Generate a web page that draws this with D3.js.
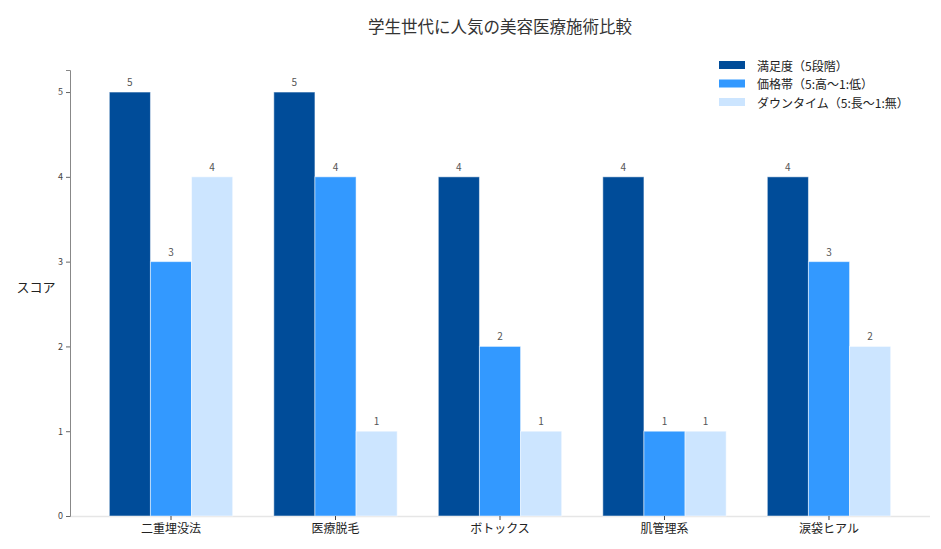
<!DOCTYPE html>
<html><head><meta charset="utf-8">
<script src="https://cdn.jsdelivr.net/npm/d3@7"></script>
<style>body{margin:0;background:#fff;font-family:"Noto Sans CJK JP","Noto Sans",sans-serif;}
svg text{text-spacing-trim:space-all;font-feature-settings:"palt" 0;}</style>
</head><body><svg id="c" width="941" height="549"></svg>
<script>
const categories = ["二重埋没法","医療脱毛","ボトックス","肌管理系","涙袋ヒアル"];
const seriesNames = ["満足度（5段階）","価格帯（5:高～1:低）","ダウンタイム（5:長～1:無）"];
const satisfaction = [5,5,4,4,4];
const price = [3,4,2,1,3];
const downtime = [4,1,1,1,2];
const yTicks = [0,1,2,3,4,5];
const colors = ["#004c99","#3399ff","#cce5ff"];
const series = [satisfaction, price, downtime];

(function(){
const svg = d3.select("#c");
const mLeft = 70, mRight = 930, mTop = 70, mBottom = 516;
const font = '"Noto Sans CJK JP","Noto Sans",sans-serif';

const x = d3.scaleBand().domain(categories).range([mLeft, mRight]).paddingInner(0).paddingOuter(0.114);
const inner = d3.scaleBand().domain(d3.range(series.length))
  .range([x.bandwidth()*0.125, x.bandwidth()*0.875]).padding(0);
const y = d3.scaleLinear().domain([0, 5.26]).range([mBottom, mTop]);

svg.append("text").attr("x", 500).attr("y", 33).attr("text-anchor","middle")
  .style("font-family", font).style("font-size","16.5px").attr("fill","#333")
  .text("学生世代に人気の美容医療施術比較");

svg.append("line").attr("x1", mLeft).attr("x2", mRight).attr("y1", mBottom+0.5).attr("y2", mBottom+0.5)
  .attr("stroke","#e6e6e6").attr("stroke-width",1.5);

series.forEach((vals, si) => {
  const g = svg.append("g");
  g.selectAll("rect").data(vals).enter().append("rect")
    .attr("x", (d,i) => x(categories[i]) + inner(si))
    .attr("width", inner.bandwidth())
    .attr("y", d => y(d))
    .attr("height", d => y(0) - y(d))
    .attr("fill", colors[si])
    .attr("stroke", "#ffffff").attr("stroke-opacity",0.5).attr("stroke-width",1);
  g.selectAll("text").data(vals).enter().append("text")
    .attr("x", (d,i) => x(categories[i]) + inner(si) + inner.bandwidth()/2)
    .attr("y", d => y(d) - 6)
    .attr("text-anchor","middle")
    .style("font-family", font).style("font-size","10px").attr("fill","#555")
    .text(d => d);
});

const ya = svg.append("g").attr("transform", `translate(${mLeft},0)`)
  .call(d3.axisLeft(y).tickValues(yTicks).tickSize(4).tickPadding(3).tickFormat(d3.format("d")));
ya.select(".domain").attr("stroke","#888");
ya.selectAll(".tick line").attr("stroke","#666");
ya.selectAll(".tick text").style("font-family", font).style("font-size","9px").attr("fill","#444");

const xa = svg.append("g").attr("transform", `translate(0,${mBottom})`)
  .call(d3.axisBottom(x).tickSize(4).tickPadding(4));
xa.select(".domain").remove();
xa.selectAll(".tick line").attr("stroke","#444");
xa.selectAll(".tick text").style("font-family", font).style("font-size","12px").attr("fill","#222");

svg.append("text").attr("x", 36).attr("y", 292).attr("text-anchor","middle")
  .style("font-family", font).style("font-size","13px").attr("fill","#222").text("スコア");

const lg = svg.append("g");
seriesNames.forEach((n, i) => {
  const yy = 65 + i*18.5;
  lg.append("rect").attr("x", 719).attr("y", yy-4).attr("width", 26).attr("height", 8).attr("fill", colors[i]);
  lg.append("text").attr("x", 757).attr("y", yy).attr("dominant-baseline","central")
    .style("font-family", font).style("font-size","12px").attr("fill","#222").text(n);
});
})();
</script></body></html>
